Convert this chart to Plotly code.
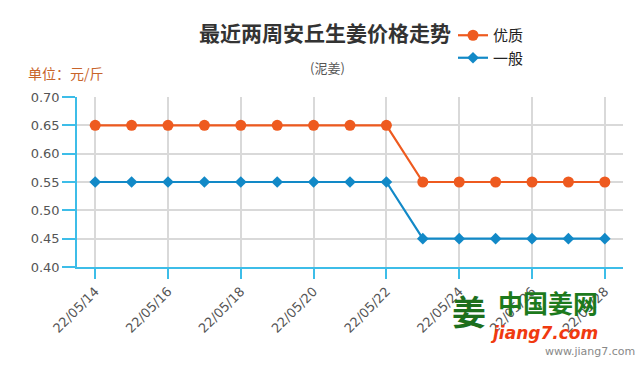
import plotly.graph_objects as go

dates = ["22/05/14", "22/05/15", "22/05/16", "22/05/17", "22/05/18", "22/05/19", "22/05/20",
         "22/05/21", "22/05/22", "22/05/23", "22/05/24", "22/05/25", "22/05/26", "22/05/27", "22/05/28"]
premium = [0.65, 0.65, 0.65, 0.65, 0.65, 0.65, 0.65, 0.65, 0.65, 0.55, 0.55, 0.55, 0.55, 0.55, 0.55]
ordinary = [0.55, 0.55, 0.55, 0.55, 0.55, 0.55, 0.55, 0.55, 0.55, 0.45, 0.45, 0.45, 0.45, 0.45, 0.45]
y_ticks = [0.40, 0.45, 0.50, 0.55, 0.60, 0.65, 0.70]
x_ticks = dates[::2]

ORANGE = "#ee5a1f"
BLUE = "#1289c7"
AXIS = "#3dbde8"
GRID = "#d9d9d9"
CJK = "Noto Sans CJK SC"

L, R, T, B = 77, 623, 97, 267
W, H = 642, 377

fig = go.Figure()
fig.add_trace(go.Scatter(x=dates, y=premium, name="优质", mode="lines+markers",
                         line=dict(color=ORANGE, width=2.2),
                         marker=dict(symbol="circle", size=11, color=ORANGE)))
fig.add_trace(go.Scatter(x=dates, y=ordinary, name="一般", mode="lines+markers",
                         line=dict(color=BLUE, width=2.2),
                         marker=dict(symbol="diamond", size=9, color=BLUE)))

fig.update_layout(
    width=W, height=H,
    margin=dict(l=L, r=W - R, t=T, b=H - B, autoexpand=False),
    paper_bgcolor="white", plot_bgcolor="white",
    showlegend=True,
    legend=dict(x=453 / W, xref="container", y=1 - 19 / H, yref="container",
                xanchor="left", yanchor="top",
                font=dict(family=CJK, size=15, color="#222"), bgcolor="rgba(0,0,0,0)",
                tracegroupgap=0, itemwidth=30, traceorder="normal"),
    font=dict(family="DejaVu Sans", color="#555"),
)

fig.update_xaxes(
    type="category", range=[-0.5, 14.5], automargin=False,
    tickmode="array", tickvals=x_ticks, ticktext=x_ticks, tickangle=-45,
    tickfont=dict(family="DejaVu Sans", size=13, color="#555"),
    showgrid=True, gridcolor=GRID, gridwidth=1.5,
    showline=True, linecolor=AXIS, linewidth=1.5,
    ticks="outside", ticklen=10, tickcolor=AXIS, tickwidth=1.5,
    zeroline=False,
)
fig.update_yaxes(
    range=[0.40, 0.70], tickmode="array", tickvals=y_ticks, automargin=False,
    ticktext=[f"{v:.2f}" for v in y_ticks],
    tickfont=dict(family="DejaVu Sans", size=13, color="#555"),
    showgrid=True, gridcolor=GRID, gridwidth=1.5,
    showline=True, linecolor=AXIS, linewidth=1.5,
    ticks="outside", ticklen=13, tickcolor=AXIS, tickwidth=1.5,
    zeroline=False,
)

ann = [
    dict(text="最近两周安丘生姜价格走势", x=325, y=32, size=21, color="#333", bold=True, family=CJK),
    dict(text="(泥姜)", x=327, y=68, size=13, color="#555", bold=False, family=CJK),
    dict(text="单位：元/斤", x=66, y=73, size=14, color="#c8642a", bold=False, family=CJK),
    dict(text="www.jiang7.com", x=590, y=351, size=11, color="#888", bold=False, family="DejaVu Sans"),
    dict(text="中国姜网", x=548, y=302, size=25, color="#1d7a1d", bold=True, family=CJK),
    dict(text="<i>jiang7.com</i>", x=544, y=333, size=17, color="#f03a10", bold=True, family="DejaVu Sans"),
    dict(text="姜", x=469, y=310, size=34, color="#1d6f1d", bold=True, family=CJK),
]
for a in ann:
    t = f"<b>{a['text']}</b>" if a["bold"] else a["text"]
    fig.add_annotation(text=t, x=(a["x"] - L) / (R - L), y=(B - a["y"]) / (B - T),
                       xref="x domain", yref="y domain", xanchor="center", yanchor="middle",
                       showarrow=False, font=dict(family=a["family"], size=a["size"], color=a["color"]))

fig.write_html("out.html", config={"displayModeBar": False},
               post_script="document.body.style.margin='0';")
